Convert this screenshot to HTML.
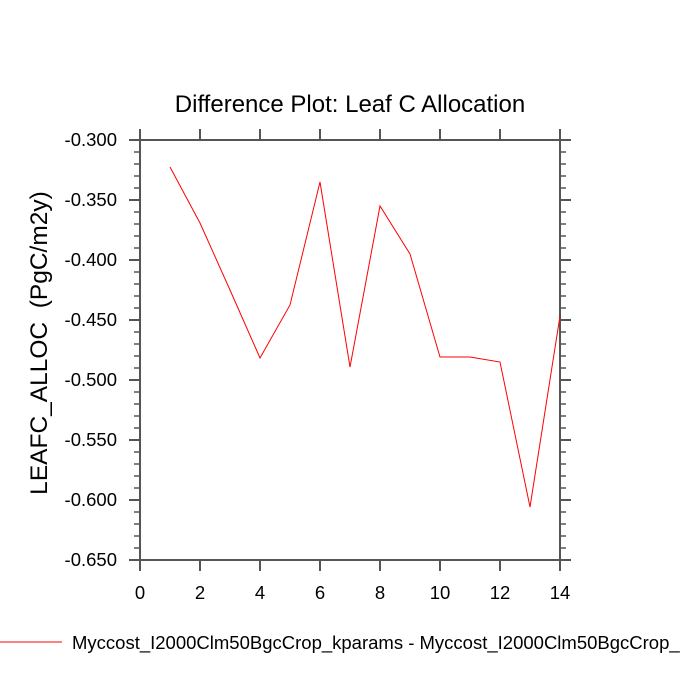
<!DOCTYPE html>
<html><head><style>body{margin:0;background:#fff}svg{display:block}</style></head><body>
<svg width="700" height="700" xmlns="http://www.w3.org/2000/svg" font-family="Liberation Sans, Helvetica, sans-serif">
<rect width="700" height="700" fill="#fff"/>
<text x="350" y="112" font-size="24" text-anchor="middle">Difference Plot: Leaf C Allocation</text>
<g stroke="#555" stroke-width="2" fill="none">
<rect x="140" y="140" width="420" height="420"/>
<path d="
M140,140v-11M200,140v-11M260,140v-11M320,140v-11M380,140v-11M440,140v-11M500,140v-11M560,140v-11
M140,560v11M200,560v11M260,560v11M320,560v11M380,560v11M440,560v11M500,560v11M560,560v11
M140,140h-11M140,200h-11M140,260h-11M140,320h-11M140,380h-11M140,440h-11M140,500h-11M140,560h-11
M560,140h11M560,200h11M560,260h11M560,320h11M560,380h11M560,440h11M560,500h11M560,560h11"/>
<path stroke-width="1.5" d="
M140,152h-6M140,164h-6M140,176h-6M140,188h-6M140,212h-6M140,224h-6M140,236h-6M140,248h-6M140,272h-6M140,284h-6M140,296h-6M140,308h-6M140,332h-6M140,344h-6M140,356h-6M140,368h-6M140,392h-6M140,404h-6M140,416h-6M140,428h-6M140,452h-6M140,464h-6M140,476h-6M140,488h-6M140,512h-6M140,524h-6M140,536h-6M140,548h-6
M560,152h6M560,164h6M560,176h6M560,188h6M560,212h6M560,224h6M560,236h6M560,248h6M560,272h6M560,284h6M560,296h6M560,308h6M560,332h6M560,344h6M560,356h6M560,368h6M560,392h6M560,404h6M560,416h6M560,428h6M560,452h6M560,464h6M560,476h6M560,488h6M560,512h6M560,524h6M560,536h6M560,548h6"/>
</g>
<g font-size="18.5" text-anchor="end">
<text x="117" y="146">-0.300</text><text x="117" y="206">-0.350</text><text x="117" y="266">-0.400</text><text x="117" y="326">-0.450</text><text x="117" y="386">-0.500</text><text x="117" y="446">-0.550</text><text x="117" y="506">-0.600</text><text x="117" y="566">-0.650</text>
</g>
<g font-size="18.5" text-anchor="middle">
<text x="140" y="599">0</text><text x="200" y="599">2</text><text x="260" y="599">4</text><text x="320" y="599">6</text><text x="380" y="599">8</text><text x="440" y="599">10</text><text x="500" y="599">12</text><text x="560" y="599">14</text>
</g>
<text transform="translate(47,343) rotate(-90)" font-size="24.5" text-anchor="middle" xml:space="preserve">LEAFC_ALLOC  (PgC/m2y)</text>
<polyline fill="none" stroke="#f00" stroke-width="1" points="170,167 200,223 230,290 260,358 290,305 320,182 350,367 380,206 410,254 440,357 470,357 500,362 530,507 560,316"/>
<line x1="0" y1="642" x2="62" y2="642" stroke="#f00" stroke-width="1"/>
<text x="72" y="649" font-size="18.5">Myccost_I2000Clm50BgcCrop_kparams - Myccost_I2000Clm50BgcCrop_</text>
</svg>
</body></html>
